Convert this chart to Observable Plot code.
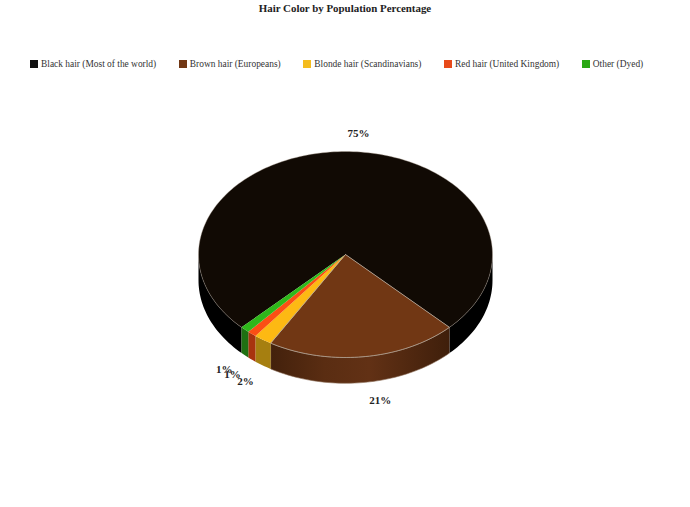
<!DOCTYPE html>
<html>
<head>
<meta charset="utf-8">
<script src="https://cdn.jsdelivr.net/npm/d3@7"></script>
<script src="https://cdn.jsdelivr.net/npm/@observablehq/plot@0.6"></script>
<style>
  html, body { margin: 0; padding: 0; background: #fff; overflow: hidden; }
  body { width: 690px; height: 507px; font-family: "Liberation Serif", serif; }
  #title { height: 56px; padding-top: 1px; box-sizing: border-box; text-align: center; font-weight: bold; font-size: 10.9px; line-height: 14px; color: #222; }
  #legend { height: 16px; display: flex; padding-left: 30px; gap: 22.6px; font-size: 9.42px; line-height: 16px; color: #333; white-space: nowrap; }
  #legend .item { display: flex; align-items: center; }
  #legend .sw { width: 8px; height: 8px; margin-right: 3px; }
  #chart { position: absolute; left: 0; top: 80px; }
  #chart svg { display: block; }
</style>
</head>
<body>
<div id="title"></div>
<div id="legend"></div>
<div id="chart"></div>
<script>
const chartTitle = "Hair Color by Population Percentage";
const categories = ["Black hair (Most of the world)", "Brown hair (Europeans)", "Blonde hair (Scandinavians)", "Red hair (United Kingdom)", "Other (Dyed)"];
const percentages = [75, 21, 2, 1, 1];
const topColors = ["#110a04", "#713714", "#fdb913", "#fb4f14", "#2eb81a"];
const sideColors = ["#000000", "url(#brownSide)", "#a67f10", "#a8330f", "#1f7012"];
const legendColors = ["#111111", "#713714", "#f4bc1e", "#e84a1a", "#2aa814"];

const firstAngle = 135;      // screen degrees, clockwise from +x
const depth = 0.25;          // rim height, in vertical radii
const labelRadius = 1.175;   // labels, in radii

// Slices from the values
let running = firstAngle;
const total = d3.sum(percentages);
const slices = percentages.map((v, i) => {
  const a = running, b = running + v / total * 360;
  running = b;
  return {i, v, a, b, mid: (a + b) / 2, top: topColors[i], side: sideColors[i]};
});

const rad = d => d * Math.PI / 180;
const arcPts = (a, b, off = 0) => {
  const n = Math.max(2, Math.ceil((b - a) / 1.5));
  return d3.range(n + 1).map(k => {
    const t = rad(a + (b - a) * k / n);
    return {x: Math.cos(t), y: Math.sin(t) + off};
  });
};
const wedge = s => [{x: 0, y: 0}, ...arcPts(s.a, s.b), {x: 0, y: 0}];
const sidePieces = s => [0, 360].flatMap(k => {
  const lo = Math.max(s.a, k), hi = Math.min(s.b, k + 180);
  return lo < hi ? [{s, pts: [...arcPts(lo, hi), ...arcPts(lo, hi, depth).reverse()]}] : [];
});

const labels = slices.map(s => {
  const t = rad(s.mid), sin = Math.sin(t);
  return {
    text: s.v + "%",
    x: Math.cos(t) * labelRadius,
    y: sin * labelRadius + (sin > 0 ? depth : 0),
    right: Math.cos(t) > -0.3
  };
});

const defs = () => {
  const d = d3.create("svg:defs");
  const g = d.append("linearGradient").attr("id", "brownSide");
  [[0, "#43210c"], [0.3, "#5a2d12"], [0.55, "#623115"], [1, "#3f1f0b"]].forEach(([o, c]) =>
    g.append("stop").attr("offset", o).attr("stop-color", c));
  return d.node();
};

const rimColor = "#b3a698";
const lineOpts = {x: "x", y: "y", curve: "linear"};

const plot = Plot.plot({
  width: 690,
  height: 427,
  margin: 0,
  x: {type: "linear", domain: [-345 / 147, 345 / 147], range: [0, 690], axis: null},
  y: {type: "linear", domain: [-174 / 103, 253 / 103], range: [0, 427], axis: null},
  marks: [
    defs,
    ...slices.flatMap(sidePieces).map(p =>
      Plot.line(p.pts, {...lineOpts, fill: p.s.side, stroke: p.s.i === 1 ? "#8a6c56" : "none", strokeWidth: 0.6})),
    ...slices.map(s => Plot.line(wedge(s), {...lineOpts, fill: s.top, stroke: "none"})),
    Plot.line(arcPts(slices[0].a, slices[0].b), {...lineOpts, stroke: rimColor, strokeWidth: 0.5, strokeOpacity: 0.75}),
    Plot.line(wedge(slices[1]), {...lineOpts, stroke: rimColor, strokeWidth: 0.8}),
    Plot.text(labels.filter(d => d.right), {x: "x", y: "y", text: "text", textAnchor: "start", dx: 2, fontFamily: "Liberation Serif", fontWeight: "bold", fontSize: 11, fill: "#222"}),
    Plot.text(labels.filter(d => !d.right), {x: "x", y: "y", text: "text", textAnchor: "middle", dx: -3, dy: 1, fontFamily: "Liberation Serif", fontWeight: "bold", fontSize: 11, fill: "#222"})
  ]
});
document.getElementById("chart").append(plot);

document.getElementById("title").textContent = chartTitle;
const legend = d3.select("#legend");
categories.forEach((c, i) => {
  const item = legend.append("div").attr("class", "item");
  item.append("div").attr("class", "sw").style("background", legendColors[i]);
  item.append("span").text(c);
});
</script>
</body>
</html>
